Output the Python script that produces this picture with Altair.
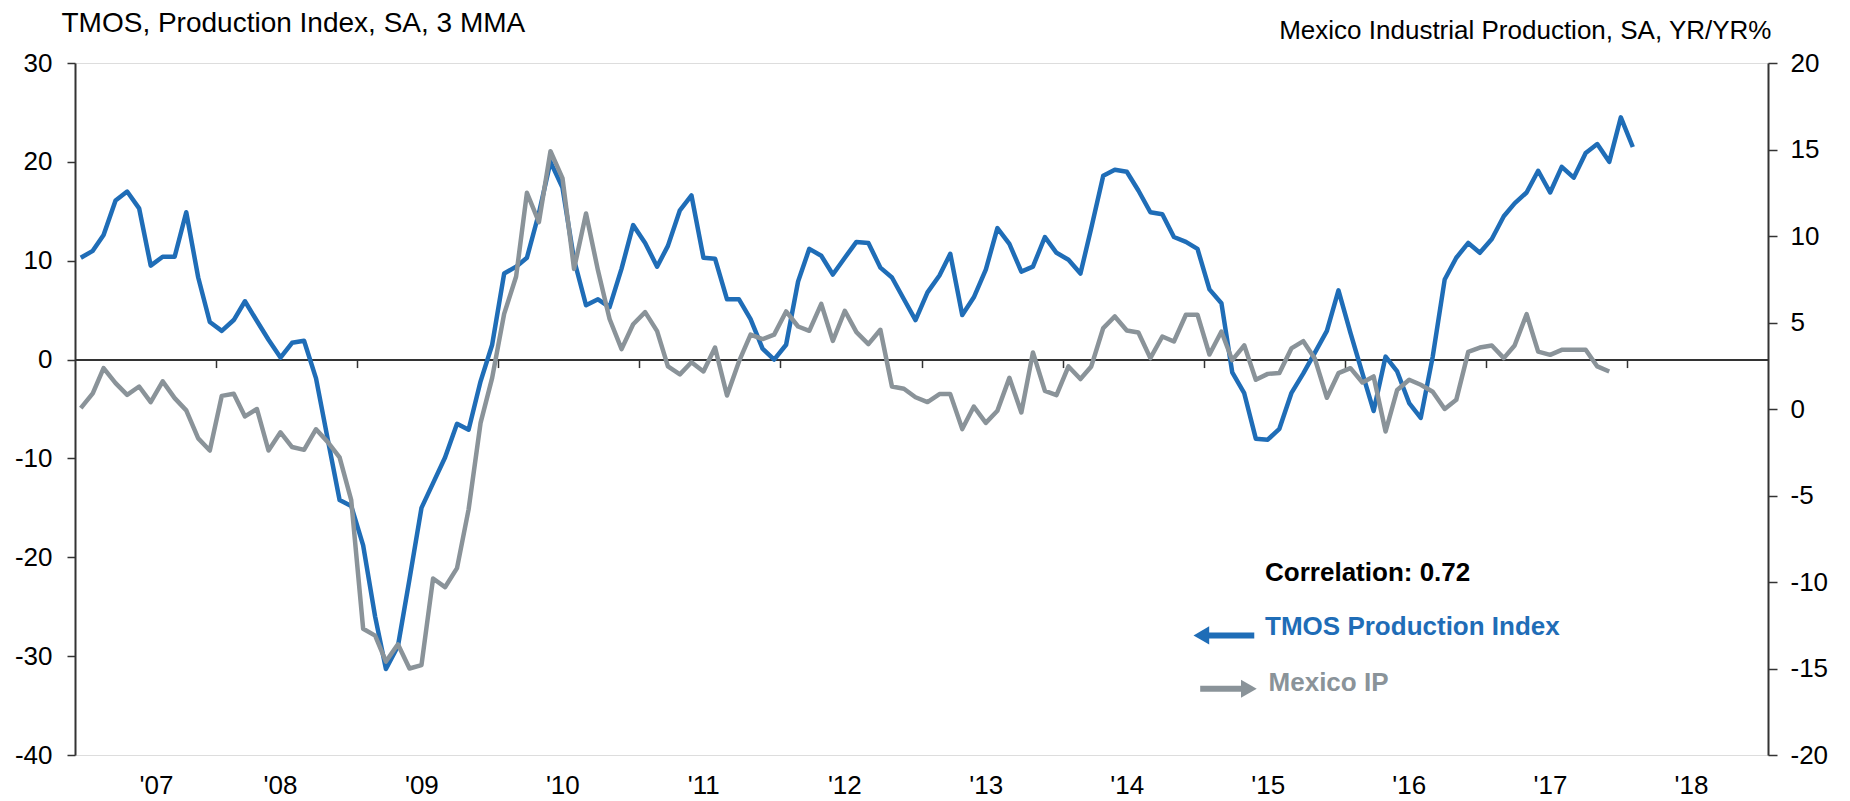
import altair as alt
import pandas as pd

# ---- data (monthly, first point Jan 2007) ----
tmos = [10.3, 11.0, 12.6, 16.1, 17.0, 15.3, 9.5, 10.4, 10.4, 14.9, 8.3, 3.8,
        2.9, 4.0, 5.9, 3.9, 2.0, 0.2, 1.7, 1.9, -1.9, -8.0, -14.2, -14.8,
        -18.8, -26.0, -31.3, -29.0, -22.2, -15.0, -12.5, -9.9, -6.5, -7.1, -2.2, 1.5,
        8.7, 9.4, 10.3, 14.8, 20.0, 17.4, 10.1, 5.5, 6.1, 5.3, 9.2, 13.6,
        11.8, 9.4, 11.5, 15.1, 16.6, 10.3, 10.2, 6.1, 6.1, 4.1, 1.1, 0.0,
        1.5, 7.9, 11.2, 10.5, 8.6, 10.3, 11.9, 11.8, 9.3, 8.3, 6.1, 4.0,
        6.8, 8.5, 10.7, 4.5, 6.3, 9.1, 13.3, 11.7, 8.9, 9.4, 12.4, 10.8,
        10.1, 8.7, 13.3, 18.6, 19.2, 19.0, 17.1, 14.9, 14.7, 12.4, 11.9, 11.2,
        7.1, 5.7, -1.3, -3.4, -8.0, -8.1, -7.0, -3.4, -1.4, 0.7, 2.9, 7.0,
        2.7, -1.4, -5.2, 0.3, -1.2, -4.4, -5.9, 0.3, 8.1, 10.3, 11.8, 10.8,
        12.2, 14.5, 15.8, 16.9, 19.1, 16.9, 19.5, 18.4, 20.9, 21.8, 20.0, 24.5,
        21.5]

mexico_ip = [0.05, 0.9, 2.36, 1.5, 0.82, 1.3, 0.4, 1.6, 0.63, -0.08, -1.7, -2.4,
             0.76, 0.88, -0.43, 0.0, -2.4, -1.35, -2.2, -2.36, -1.17, -1.9, -2.8, -5.25,
             -12.7, -13.1, -14.6, -13.6, -15.0, -14.8, -9.8, -10.3, -9.2, -5.8, -0.8, 1.8,
             5.5, 7.66, 12.5, 10.8, 14.9, 13.35, 8.1, 11.3, 8.0, 5.2, 3.46, 4.9,
             5.6, 4.5, 2.46, 2.0, 2.7, 2.17, 3.55, 0.78, 2.75, 4.3, 4.04, 4.3,
             5.64, 4.77, 4.52, 6.08, 3.94, 5.68, 4.44, 3.75, 4.58, 1.3, 1.17, 0.68,
             0.4, 0.86, 0.86, -1.16, 0.14, -0.8, -0.1, 1.8, -0.2, 3.27, 1.05, 0.8,
             2.46, 1.73, 2.46, 4.68, 5.35, 4.54, 4.42, 2.94, 4.19, 3.9, 5.45, 5.45,
             3.15, 4.48, 2.82, 3.68, 1.69, 2.03, 2.08, 3.5, 3.92, 2.9, 0.65, 2.07,
             2.36, 1.53, 1.88, -1.3, 1.1, 1.69, 1.4, 1.0, 0.0, 0.53, 3.3, 3.55,
             3.67, 2.94, 3.67, 5.48, 3.32, 3.13, 3.42, 3.42, 3.42, 2.46, 2.17]

years = list(range(2007, 2019))
tick_years = list(range(2008, 2019))

left_title = "TMOS, Production Index, SA, 3 MMA"
right_title = "Mexico Industrial Production, SA, YR/YR%"
corr_text = "Correlation: 0.72"
tmos_label = "TMOS Production Index"
ip_label = "Mexico IP"

BLUE = "#1f6db7"
GRAY = "#8a9399"
FONT = "Liberation Sans"

months_t = pd.date_range("2007-01-01", periods=len(tmos), freq="MS") + pd.Timedelta(days=15)
months_g = pd.date_range("2007-01-01", periods=len(mexico_ip), freq="MS") + pd.Timedelta(days=15)
df_t = pd.DataFrame({"date": months_t.strftime("%Y-%m-%d"), "tmos": tmos})
df_g = pd.DataFrame({"date": months_g.strftime("%Y-%m-%d"), "ip": mexico_ip})

W, H = 1693, 692

xscale = alt.Scale(type="utc",
                   domain=[alt.DateTime(year=2007, month=1, date=1, utc=True),
                           alt.DateTime(year=2019, month=1, date=1, utc=True)])
yleft = alt.Scale(domain=[-40, 30], nice=False, zero=False)
yright = alt.Scale(domain=[-20, 20], nice=False, zero=False)

label_axis = alt.Axis(orient="bottom", domain=False, ticks=False, tickSize=0, grid=False,
                      values=[alt.DateTime(year=y, month=1, date=1, utc=True) for y in years],
                      labelExpr="\"'\" + utcFormat(datum.value, '%y')",
                      labelOffset=64, labelPadding=17,
                      labelFontSize=26, labelFont=FONT, labelColor="#000", title=None)
zero_axis = alt.Axis(orient="bottom", offset=-(H * 40 / 70), labels=False, grid=False,
                     values=[alt.DateTime(year=y, month=1, date=1, utc=True) for y in tick_years],
                     domain=True, domainColor="#333", domainWidth=2, ticks=True,
                     tickSize=8, tickColor="#333", tickWidth=1.5, title=None)

left_axis = alt.Axis(orient="left", values=list(range(-40, 31, 10)), grid=False,
                     labelExpr="'' + datum.value",
                     domainColor="#333", domainWidth=2, tickColor="#333", tickWidth=1.5,
                     tickSize=8, labelPadding=15, labelFontSize=26, labelFont=FONT,
                     labelColor="#000", title=left_title, titleAngle=0, titleAlign="left",
                     titleBaseline="alphabetic", titleX=-14, titleY=-32,
                     titleFontSize=28, titleFontWeight="normal", titleFont=FONT,
                     titleColor="#000")
right_axis = alt.Axis(orient="right", values=list(range(-20, 21, 5)), grid=False,
                      labelExpr="'' + datum.value",
                      domainColor="#333", domainWidth=2, tickColor="#333", tickWidth=1.5,
                      tickSize=9, labelPadding=13, labelFontSize=26, labelFont=FONT,
                      labelColor="#000", title=right_title, titleAngle=0, titleAlign="right",
                      titleBaseline="alphabetic", titleX=3, titleY=-25,
                      titleFontSize=26, titleFontWeight="normal", titleFont=FONT,
                      titleColor="#000")

blue = alt.Chart(df_t).mark_line(color=BLUE, strokeWidth=4.5, strokeJoin="round").encode(
    x=alt.X("date:T", scale=xscale, axis=label_axis),
    y=alt.Y("tmos:Q", scale=yleft, axis=left_axis),
)
gray = alt.Chart(df_g).mark_line(color=GRAY, strokeWidth=4.5, strokeJoin="round").encode(
    x=alt.X("date:T", scale=xscale, axis=zero_axis),
    y=alt.Y("ip:Q", scale=yright, axis=right_axis),
)

# annotations (placed in data coordinates: date / left-axis value)
ann_text = pd.DataFrame({
    "date": ["2015-06-09", "2015-06-09", "2015-06-18"],
    "v": [-21.6, -27.1, -32.7],
    "label": [corr_text, tmos_label, ip_label],
    "col": ["#000000", BLUE, GRAY],
})
texts = alt.Chart(ann_text).mark_text(align="left", baseline="middle", font=FONT,
                                      fontSize=26, fontWeight="bold").encode(
    x=alt.X("date:T", scale=xscale, axis=None),
    y=alt.Y("v:Q", scale=yleft, axis=None),
    text="label:N",
    color=alt.Color("col:N", scale=None),
)

shafts = pd.DataFrame({
    "d1": ["2014-12-28", "2014-12-23"],
    "d2": ["2015-05-12", "2015-04-18"],
    "v": [-27.9, -33.3],
    "col": [BLUE, GRAY],
})
shaft = alt.Chart(shafts).mark_rule(strokeWidth=6).encode(
    x=alt.X("d1:T", scale=xscale, axis=None),
    x2="d2:T",
    y=alt.Y("v:Q", scale=yleft, axis=None),
    color=alt.Color("col:N", scale=None),
)
heads = pd.DataFrame({
    "date": ["2014-12-26", "2015-04-28"],
    "v": [-27.9, -33.3],
    "shape": ["triangle-left", "triangle-right"],
    "col": [BLUE, GRAY],
})
head = alt.Chart(heads).mark_point(filled=True, size=330, opacity=1).encode(
    x=alt.X("date:T", scale=xscale, axis=None),
    y=alt.Y("v:Q", scale=yleft, axis=None),
    shape=alt.Shape("shape:N", scale=None),
    color=alt.Color("col:N", scale=None),
)

chart = alt.layer(blue, gray, texts, shaft, head).resolve_scale(
    y="independent"
).resolve_axis(x="independent", y="independent").properties(
    width=W, height=H,
    autosize=alt.AutoSizeParams(type="none"),
    padding={"left": 67, "top": 55, "right": 70, "bottom": 46},
).configure_view(stroke=None).configure(background="white")

chart.save("out.html", embed_options={"renderer": "svg", "actions": False})
